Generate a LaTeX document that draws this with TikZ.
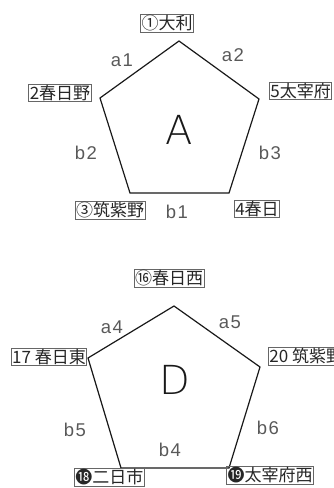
\documentclass[tikz,border=0pt]{standalone}
\usepackage{fontspec}
\setmainfont{Noto Sans CJK JP}
\newfontfamily\lblfont[LetterSpace=8]{Liberation Sans}
\newfontfamily\bigfont{DejaVu Sans ExtraLight}
\begin{document}
\begin{tikzpicture}[x=1pt,y=-1pt,
  stn/.style={draw=black!60,line width=0.7pt,inner xsep=1pt,inner ysep=1pt,text=black!85,font=\fontsize{17}{18}\selectfont},
  edgelbl/.style={text=black!65,font=\lblfont\fontsize{18.5}{19}\selectfont},
  biglbl/.style={text=black!90,font=\bigfont\fontsize{40}{40}\selectfont},
  pent/.style={draw=black!90,line width=1.2pt,line join=miter}]
\useasboundingbox (0,0) rectangle (334,488);
% ---- pentagon A ----
\coordinate (At) at (179,41);
\coordinate (Al) at (100,98);
\coordinate (Ar) at (259,99);
\coordinate (Abl) at (130,193);
\coordinate (Abr) at (229,193);
\draw[pent] (At) -- (Ar) -- (Abr) -- (Abl) -- (Al) -- cycle;
\node[biglbl] (A) at (179,130) {A};
\node[stn] (s1) at (167,23) {①大利};
\node[stn] (s2) at (60,93) {2春日野};
\node[stn,anchor=west] (s5) at (269,91) {5太宰府};
\node[stn] (s3) at (110,210) {③筑紫野};
\node[stn] (s4) at (257,209) {4春日};
\node[edgelbl] (a1) at (122,60) {a1};
\node[edgelbl] (a2) at (233,55) {a2};
\node[edgelbl] (b2) at (86,153) {b2};
\node[edgelbl] (b3) at (270,153) {b3};
\node[edgelbl] (b1) at (177,212) {b1};
% ---- pentagon D ----
\coordinate (Dt) at (174,306);
\coordinate (Dl) at (88,358);
\coordinate (Dr) at (260,367);
\coordinate (Dbl) at (121,468);
\coordinate (Dbr) at (229,468);
\draw[pent] (Dt) -- (Dr) -- (Dbr) -- (Dbl) -- (Dl) -- cycle;
\node[biglbl] (D) at (175,380) {D};
\node[stn] (s16) at (169,278) {⑯春日西};
\node[stn] (s17) at (49,357) {17 春日東};
\node[stn,anchor=west] (s20) at (268,356) {20 筑紫野};
\node[stn,anchor=north west] (s18) at (74,468) {⓲二日市};
\node[stn] (s19) at (270,475) {⓳太宰府西};
\node[edgelbl] (a4) at (112,327) {a4};
\node[edgelbl] (a5) at (230,322) {a5};
\node[edgelbl] (b5) at (75,430) {b5};
\node[edgelbl] (b6) at (268,428) {b6};
\node[edgelbl] (b4) at (170,450) {b4};
\end{tikzpicture}
\end{document}
